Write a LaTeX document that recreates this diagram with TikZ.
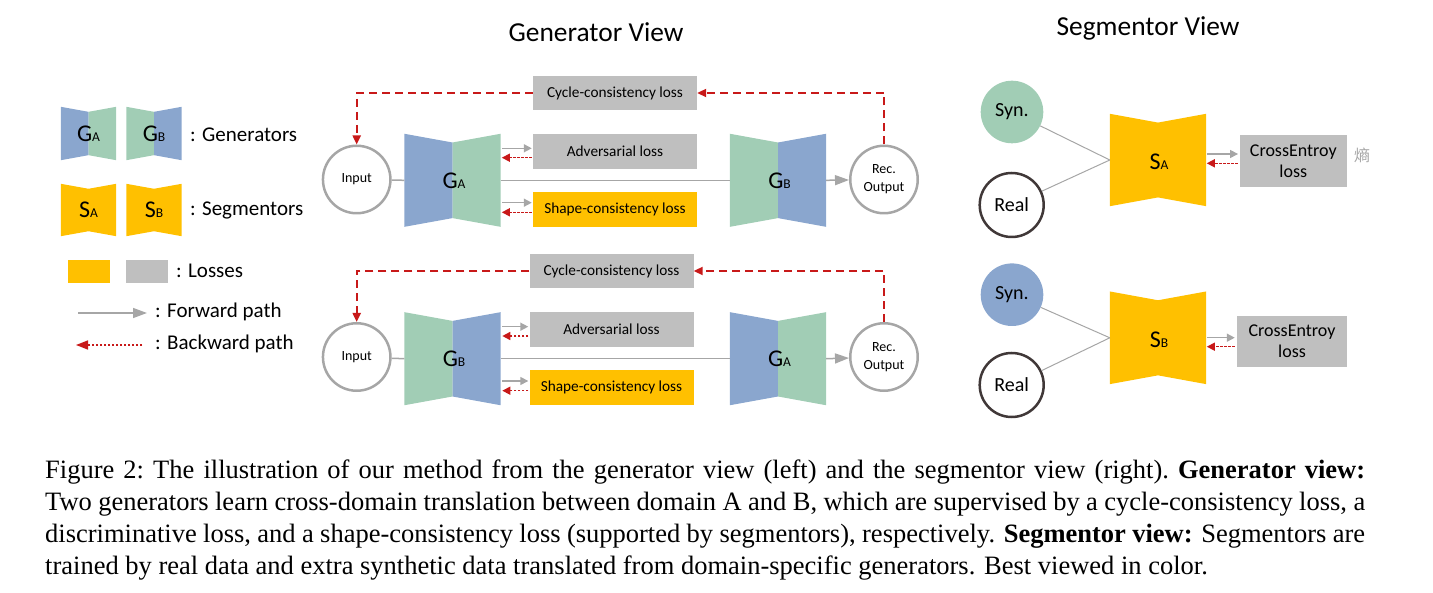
\documentclass[tikz,border=0pt]{standalone}
\usepackage{fontspec}
\setmainfont{Liberation Serif}
\newfontfamily\carl{Carlito}
\newfontfamily\cjkf{Noto Sans CJK SC}
\usetikzlibrary{arrows.meta,calc}
\definecolor{gblue}{RGB}{138,166,206}
\definecolor{ggreen}{RGB}{161,205,181}
\definecolor{syel}{RGB}{255,192,0}
\definecolor{lgray}{RGB}{191,191,191}
\definecolor{lngray}{RGB}{166,166,166}
\definecolor{cred}{RGB}{200,25,25}
\definecolor{realc}{RGB}{64,56,56}
\newcommand\genshape[6]{%
  \node[inner sep=0, minimum width=#3, minimum height=#4] (#1) at #2 {};
  \fill[#5] (#1.north west) -- ($(#1.north)!0.094!(#1.south)$) -- ($(#1.south)!0.094!(#1.north)$) -- (#1.south west) -- cycle;
  \fill[#6] (#1.north east) -- ($(#1.north)!0.094!(#1.south)$) -- ($(#1.south)!0.094!(#1.north)$) -- (#1.south east) -- cycle;
}
\newcommand\segshape[4]{%
  \node[inner sep=0, minimum width=#3, minimum height=#4] (#1) at #2 {};
  \fill[syel] (#1.north west) -- ($(#1.north)!0.095!(#1.south)$) -- (#1.north east) -- (#1.south east) -- ($(#1.south)!0.095!(#1.north)$) -- (#1.south west) -- cycle;
}
\newcommand\glab[2]{{\fontsize{24}{24}\selectfont #1}{\fontsize{13.5}{13.5}\selectfont #2}}
\tikzset{
  lossbox/.style={fill=lgray, inner sep=0, minimum width=164, minimum height=34.7, font=\carl\fontsize{15.3}{15.3}\selectfont},
  shapebox/.style={lossbox, fill=syel},
  cebox/.style={fill=lgray, inner sep=0, align=center, font=\carl\fontsize{18}{21}\selectfont},
  iocircle/.style={circle, draw=lngray, line width=2.5, minimum size=67.5, inner sep=0, align=center, font=\carl\fontsize{14}{18}\selectfont},
  syncircle/.style={circle, inner sep=0, minimum size=62.6, font=\carl\fontsize{20}{20}\selectfont},
  realcircle/.style={circle, draw=realc, line width=2.5, minimum size=64, inner sep=0, font=\carl\fontsize{20}{20}\selectfont},
  legtext/.style={anchor=west, inner sep=0, font=\carl\fontsize{21}{21}\selectfont},
  title/.style={inner sep=0, font=\carl\fontsize{27.4}{27.4}\selectfont},
  fwd/.style={draw=lngray, line width=1.5, -{Triangle[length=14, width=10]}},
  fwdsmall/.style={draw=lngray, line width=1.5, -{Triangle[length=8, width=8]}},
  plainln/.style={draw=lngray, line width=1.5},
  segln/.style={draw=lngray, line width=1},
  bwdsmall/.style={draw=cred, line width=1.5, dash pattern=on 2.5 off 1.5, -{Triangle[length=8, width=8]}},
  cycarrow/.style={draw=cred, line width=2, dash pattern=on 8 off 5, -{Triangle[length=9, width=8]}},
  capline/.style={anchor=base west, inner sep=0, font=\fontsize{26.5}{32}\selectfont},
}
\begin{document}
\begin{tikzpicture}[x=1pt, y=-1pt]
\useasboundingbox (0,0) rectangle (1433,593);

% titles
\node[title] (t1) at (596,32) {Generator View};
\node[title] (t2) at (1148,28) {Segmentor View};

% ---------- legend ----------
\genshape{lgA}{(88.5,133.5)}{55}{53}{gblue}{ggreen}
\node[inner sep=0] (lgAl) at (lgA) {\carl\glab{G}{A}};
\genshape{lgB}{(154,133.5)}{55}{53}{ggreen}{gblue}
\node[inner sep=0] (lgBl) at (lgB) {\carl\glab{G}{B}};
\node[legtext] (lt1) at (190,135) {: Generators};
\segshape{lsA}{(88.5,210)}{55}{52}
\node[inner sep=0] (lsAl) at (lsA) {\carl\glab{S}{A}};
\segshape{lsB}{(154,210)}{55}{52}
\node[inner sep=0] (lsBl) at (lsB) {\carl\glab{S}{B}};
\node[legtext] (lt2) at (190,210) {: Segmentors};
\node[fill=syel, inner sep=0, minimum width=42, minimum height=23] (ll1) at (89,271.5) {};
\node[fill=lgray, inner sep=0, minimum width=42, minimum height=23] (ll2) at (147,271.5) {};
\node[legtext] (lt3) at (176,271) {: Losses};
\coordinate (lf1) at (78,313);
\coordinate (lf2) at (147,313);
\draw[fwd] (lf1) -- (lf2);
\node[legtext] (lt4) at (155,312) {: Forward path};
\coordinate (lb1) at (142,345);
\coordinate (lb2) at (76,345);
\draw[draw=cred, line width=1.5, dash pattern=on 2.5 off 1.5, -{Triangle[length=12, width=9]}] (lb1) -- (lb2);
\node[legtext] (lt5) at (155,344) {: Backward path};

% ---------- generator view, top row ----------
\node[iocircle] (in1) at (356.7,179.5) {Input};
\genshape{gA1}{(452.5,180.3)}{96}{92.7}{gblue}{ggreen}
\node[inner sep=0] (gA1l) at (454,180.5) {\carl\glab{G}{A}};
\genshape{gB1}{(778,180.3)}{96}{92.7}{ggreen}{gblue}
\node[inner sep=0] (gB1l) at (779.5,180.5) {\carl\glab{G}{B}};
\node[iocircle] (out1) at (884,179.5) {Rec.\\Output};
\node[lossbox] (cyc1) at (615,93) {Cycle-consistency loss};
\node[lossbox] (adv1) at (615,151.3) {Adversarial loss};
\node[shapebox] (shp1) at (615,209.3) {Shape-consistency loss};

\draw[plainln] (in1) -- (gA1.west);
\draw[plainln] (gA1.east) -- (gB1.west);
\draw[fwd] (gB1.east) -- (out1);
\draw[cycarrow] (cyc1.west) -| (in1.north);
\draw[cycarrow] (out1.north) |- (cyc1.east);
\draw[fwdsmall] ($(adv1.west)+(-31,-3)$) -- ($(adv1.west)+(-1,-3)$);
\draw[bwdsmall] ($(adv1.west)+(-1,6.4)$) -- ($(adv1.west)+(-31,6.4)$);
\draw[fwdsmall] ($(shp1.west)+(-31,-6.6)$) -- ($(shp1.west)+(-1,-6.6)$);
\draw[bwdsmall] ($(shp1.west)+(-1,3)$) -- ($(shp1.west)+(-31,3)$);

% ---------- generator view, bottom row ----------
\node[iocircle] (in2) at (356.7,357) {Input};
\genshape{gB2}{(452.5,358.7)}{96}{92.7}{ggreen}{gblue}
\node[inner sep=0] (gB2l) at (454,359) {\carl\glab{G}{B}};
\genshape{gA2}{(778,358.7)}{96}{92.7}{gblue}{ggreen}
\node[inner sep=0] (gA2l) at (779.5,359) {\carl\glab{G}{A}};
\node[iocircle] (out2) at (884,357) {Rec.\\Output};
\node[lossbox] (cyc2) at (611.5,271) {Cycle-consistency loss};
\node[lossbox] (adv2) at (611.5,329.3) {Adversarial loss};
\node[shapebox] (shp2) at (611.5,387.3) {Shape-consistency loss};

\draw[plainln] (in2) -- (gB2.west);
\draw[plainln] (gB2.east) -- (gA2.west);
\draw[fwd] (gA2.east) -- (out2);
\draw[cycarrow] (cyc2.west) -| (in2.north);
\draw[cycarrow] (out2.north) |- (cyc2.east);
\draw[fwdsmall] ($(adv2.west)+(-27,-2.6)$) -- ($(adv2.west)+(-1,-2.6)$);
\draw[bwdsmall] ($(adv2.west)+(-1,6.7)$) -- ($(adv2.west)+(-27,6.7)$);
\draw[fwdsmall] ($(shp2.west)+(-27,-6.3)$) -- ($(shp2.west)+(-1,-6.3)$);
\draw[bwdsmall] ($(shp2.west)+(-1,3.4)$) -- ($(shp2.west)+(-27,3.4)$);

% ---------- segmentor view ----------
\node[syncircle, fill=ggreen] (syn1) at (1012,112) {Syn.};
\node[realcircle] (real1) at (1011.7,205) {Real};
\segshape{sA}{(1158,160)}{96}{92}
\node[inner sep=0] (sAl) at (1159,162) {\carl\glab{S}{A}};
\node[cebox, minimum width=106.7, minimum height=51.7] (ce1) at (1293.3,160.8) {CrossEntroy\\loss};
\draw[segln] (syn1) -- (sA.west);
\draw[segln] (real1) -- (sA.west);
\draw[fwdsmall] ($(ce1.west)+(-33,-6.8)$) -- ($(ce1.west)+(-1.7,-6.8)$);
\draw[bwdsmall] ($(ce1.west)+(-2,2.5)$) -- ($(ce1.west)+(-33,2.5)$);
\node[inner sep=0, text=lngray, font=\cjkf\fontsize{16}{16}\selectfont] (shang) at (1362,155) {熵};

\node[syncircle, fill=gblue] (syn2) at (1012,294.7) {Syn.};
\node[realcircle] (real2) at (1011.7,385) {Real};
\segshape{sB}{(1158,337.8)}{96}{92.3}
\node[inner sep=0] (sBl) at (1159,339.5) {\carl\glab{S}{B}};
\node[cebox, minimum width=109.4, minimum height=51.3] (ce2) at (1292,341.7) {CrossEntroy\\loss};
\draw[segln] (syn2) -- (sB.west);
\draw[segln] (real2) -- (sB.west);
\draw[fwdsmall] ($(ce2.west)+(-30.3,-4)$) -- ($(ce2.west)+(-2.3,-4)$);
\draw[bwdsmall] ($(ce2.west)+(-2.3,5)$) -- ($(ce2.west)+(-30.3,5)$);

% ---------- caption ----------
\node[capline] (cap1) at (45,478.5) {\makebox[1320pt][s]{Figure 2:\ The illustration of our method from the generator view (left) and the segmentor view (right).\ \textbf{Generator view:}}};
\node[capline] (cap2) at (45,510.5) {\makebox[1320pt][s]{Two generators learn cross-domain translation between domain A and B, which are supervised by a cycle-consistency loss, a}};
\node[capline] (cap3) at (45,542.5) {\makebox[1320pt][s]{discriminative loss, and a shape-consistency loss (supported by segmentors), respectively. \textbf{Segmentor view:} Segmentors are}};
\node[capline] (cap4) at (45,574.5) {trained by real data and extra synthetic data translated from domain-specific generators. Best viewed in color.};
\end{tikzpicture}
\end{document}
